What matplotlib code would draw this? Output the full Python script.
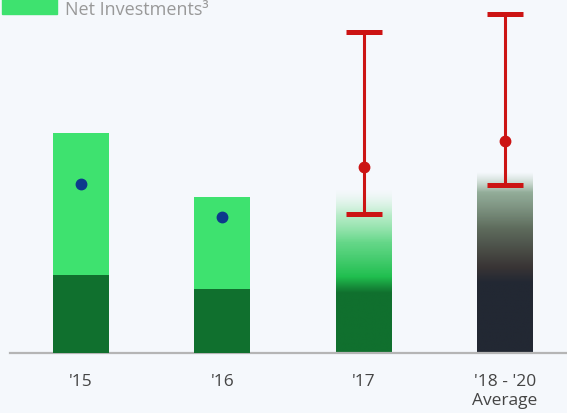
import numpy as np
import matplotlib.pyplot as plt
from matplotlib.colors import to_rgb
from matplotlib.patches import Rectangle

plt.rcParams['font.family'] = ['Open Sans', 'DejaVu Sans']

# chart values (arbitrary units)
categories = ["'15", "'16", "'17", "'18 - '20\nAverage"]
net_total = [22.0, 15.6]          # solid bars '15, '16 (bright green)
net_base = [7.8, 6.4]             # dark green part '15, '16
dot_values = [16.9, 13.6]         # blue markers '15, '16
est_top = [16.2, 18.0]            # faded bars '17, avg
est_base = [6.0, 7.0]             # dark part of faded bars
est_mid = [18.6, 21.2]            # red point estimate
est_low = [13.9, 16.8]
est_high = [32.1, 33.9]

bg = '#f5f8fc'
bright = '#3ee26f'
dark = '#10702e'
navy = '#222833'
red = '#cc1414'
blue = '#0d3a8c'

fig = plt.figure(figsize=(5.67, 4.13), dpi=100)
fig.patch.set_facecolor(bg)
ax = fig.add_axes([10 / 567, 60 / 413, 557 / 567, 353 / 413])
ax.set_facecolor(bg)

x = np.arange(len(categories))
w = 0.396

# solid bars
ax.bar(x[:2], net_total, width=w, color=bright, zorder=2)
ax.bar(x[:2], net_base, width=w, color=dark, zorder=3)
ax.plot(x[:2], dot_values, 'o', color=blue, markersize=7.5, zorder=4)


def gradient_bar(xc, top, stops):
    # stops: list of (height, colour, alpha) from bottom up
    n = 300
    h = np.linspace(0, top, n)
    hs = [s[0] for s in stops]
    cols = np.array([to_rgb(s[1]) for s in stops])
    al = np.array([s[2] for s in stops])
    img = np.zeros((n, 1, 4))
    for k in range(3):
        img[:, 0, k] = np.interp(h, hs, cols[:, k])
    img[:, 0, 3] = np.interp(h, hs, al)
    ax.imshow(img, origin='lower', aspect='auto', zorder=2,
              extent=[xc - w / 2, xc + w / 2, 0, top], interpolation='bilinear')


b, t = est_base[0], est_top[0]
gradient_bar(x[2], t, [(0, dark, 1), (b, dark, 1), (b + 1.6, '#20bf4f', 1),
                       (b + 5.0, '#55d47c', 0.9), (t - 2.5, '#8fe4a6', 0.6), (t, '#c8f0d4', 0.0)])
b, t = est_base[1], est_top[1]
gradient_bar(x[3], t, [(0, navy, 1), (b, navy, 1), (b + 1.6, '#3a3535', 1),
                       (b + 5.5, '#5f6d5e', 1), (t - 2, '#7a9a80', 0.8), (t, '#a8c4ae', 0.0)])

ax.errorbar(x[2:], est_mid,
            yerr=[np.array(est_mid) - np.array(est_low), np.array(est_high) - np.array(est_mid)],
            fmt='o', color=red, markersize=7.5, elinewidth=2.2, capsize=13, capthick=3.6, zorder=5)

ax.set_xlim(-0.502, 3.439)
ax.set_ylim(0, 35.3)
for s in ['top', 'right', 'left']:
    ax.spines[s].set_visible(False)
ax.spines['bottom'].set_color('#b5b5b5')
ax.spines['bottom'].set_linewidth(1.6)
ax.set_yticks([])
ax.set_xticks(x)
ax.set_xticklabels(categories, fontsize=12.5, color='#444444', linespacing=1.25)
ax.tick_params(axis='x', length=0, pad=15)

# legend (at the top edge)
fig.patches.append(Rectangle((2 / 567, 1 - 14 / 413), 55 / 567, 20 / 413,
                             transform=fig.transFigure, color=bright))
fig.text(65 / 567, 1 - 10 / 413, 'Net Investments\u00b3', fontsize=13, color='#999999', va='center')

fig.savefig('out.png', dpi=100, facecolor=bg)
